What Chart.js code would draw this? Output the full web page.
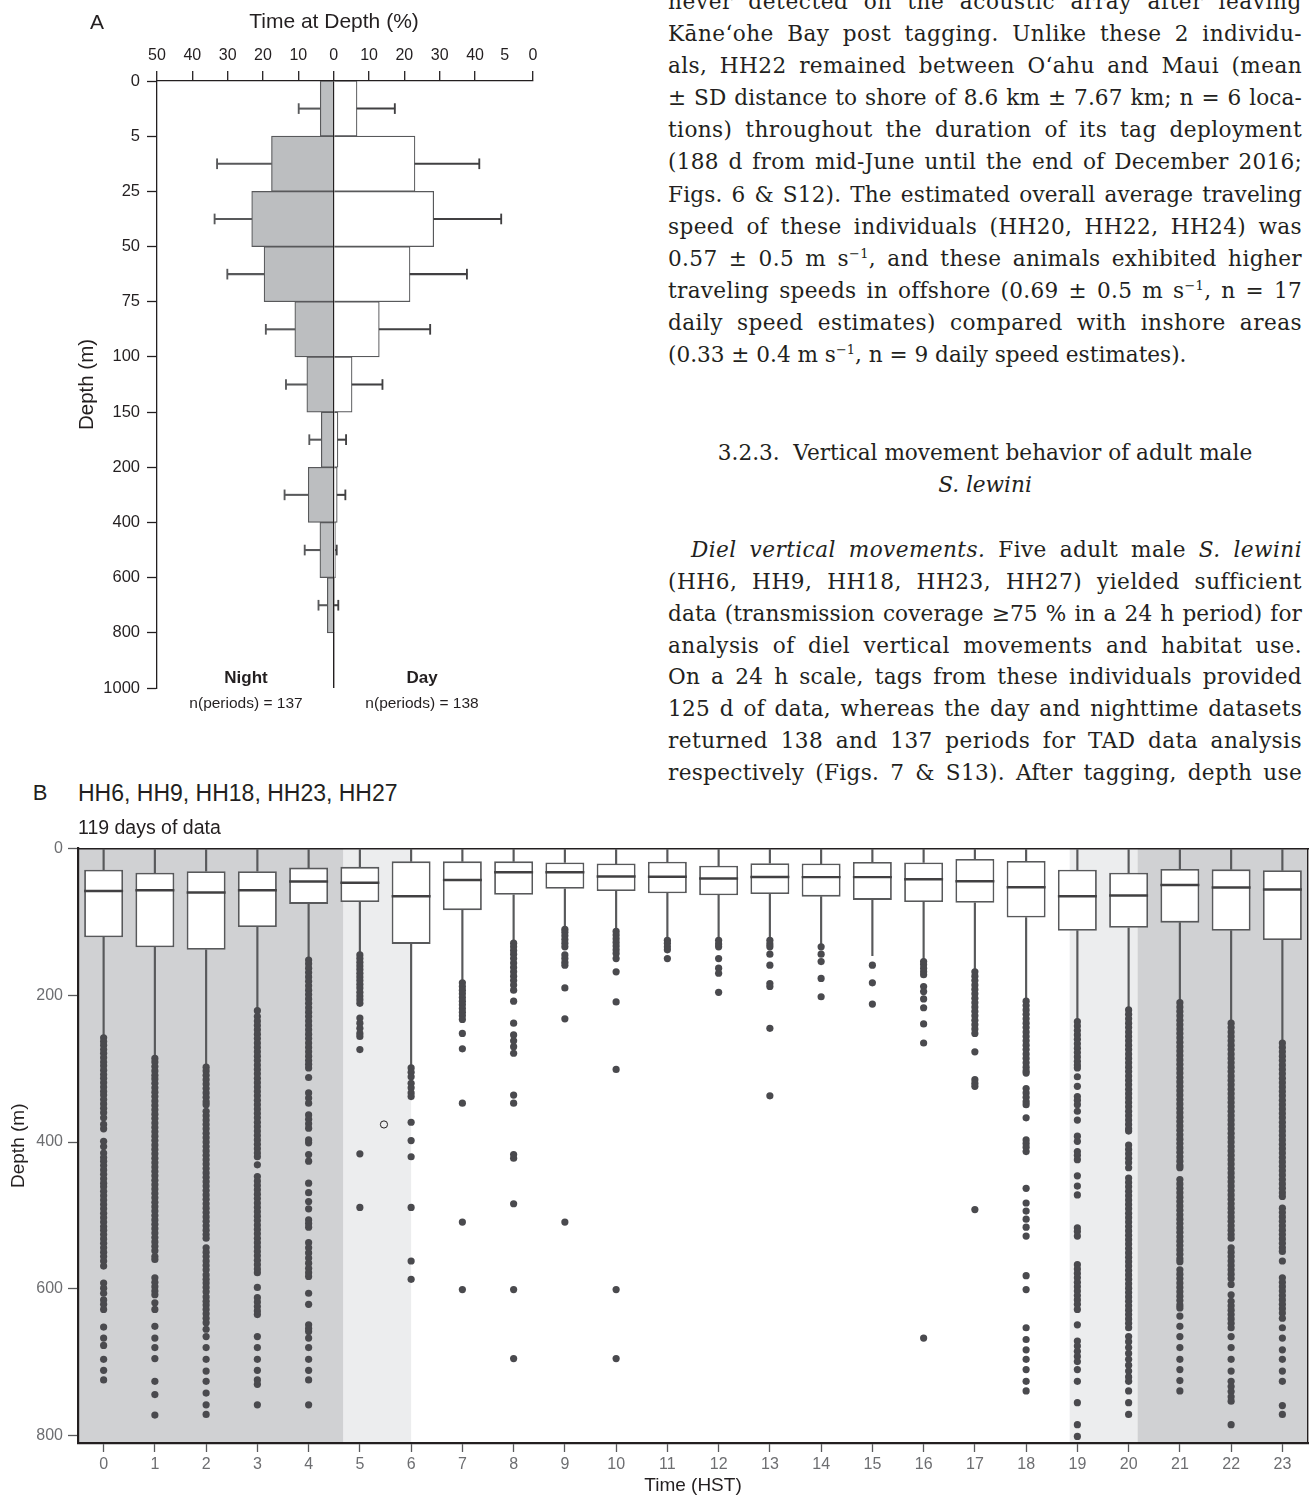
<!DOCTYPE html>
<html><head><meta charset="utf-8">
<script src="https://cdn.jsdelivr.net/npm/chart.js@4.4.1/dist/chart.umd.min.js"></script>
<style>
html,body{margin:0;padding:0;background:#fff;width:1313px;height:1498px;overflow:hidden;position:relative;}
canvas{position:absolute;left:0;}
.abs{position:absolute;white-space:nowrap;font-family:'Liberation Sans',Arial,sans-serif;color:#231f20;z-index:2;}
.c{transform:translate(-50%,-50%);}
.l{transform:translateY(-50%);}
#col{position:absolute;left:668px;top:0;width:634px;height:800px;font-family:'DejaVu Serif',serif;font-size:21.6px;color:#231f20;z-index:2;}
.ln{position:absolute;left:0;width:634px;height:32px;line-height:32px;white-space:nowrap;}
.ln .t{display:inline-block;white-space:nowrap;}
.ctr{text-align:center;}
sup{font-size:0.6em;line-height:0;vertical-align:0.6em;}
</style></head>
<body>
<canvas id="chartA" width="640" height="720" style="top:0"></canvas>
<canvas id="chartB" width="1313" height="668" style="top:830px"></canvas>

<div class="abs c" style="left:97px;top:22px;font-size:21px;">A</div>
<div class="abs c" style="left:334px;top:21px;font-size:21px;">Time at Depth (%)</div>
<div class="abs c" style="left:246px;top:678px;font-size:17px;font-weight:bold;">Night</div>
<div class="abs c" style="left:422px;top:678px;font-size:17px;font-weight:bold;">Day</div>
<div class="abs c" style="left:246px;top:703px;font-size:15.5px;">n(periods) = 137</div>
<div class="abs c" style="left:422px;top:703px;font-size:15.5px;">n(periods) = 138</div>

<div class="abs c" style="left:40px;top:793px;font-size:22px;">B</div>
<div class="abs l" style="left:78px;top:793px;font-size:23px;">HH6, HH9, HH18, HH23, HH27</div>
<div class="abs l" style="left:78px;top:827px;font-size:19.5px;">119 days of data</div>

<div id="col">
<div class="ln j" style="top:-14px"><span class="t">never detected on the acoustic array after leaving</span></div>
<div class="ln j" style="top:18px"><span class="t">Kāneʻohe Bay post tagging. Unlike these 2 individu-</span></div>
<div class="ln j" style="top:50px"><span class="t">als, HH22 remained between Oʻahu and Maui (mean</span></div>
<div class="ln j" style="top:82px"><span class="t">± SD distance to shore of 8.6 km ± 7.67 km; n = 6 loca-</span></div>
<div class="ln j" style="top:114px"><span class="t">tions) throughout the duration of its tag deployment</span></div>
<div class="ln j" style="top:146px"><span class="t">(188 d from mid-June until the end of December 2016;</span></div>
<div class="ln j" style="top:179px"><span class="t">Figs. 6 &amp; S12). The estimated overall average traveling</span></div>
<div class="ln j" style="top:211px"><span class="t">speed of these individuals (HH20, HH22, HH24) was</span></div>
<div class="ln j" style="top:243px"><span class="t">0.57 ± 0.5 m s<sup>−1</sup>, and these animals exhibited higher</span></div>
<div class="ln j" style="top:275px"><span class="t">traveling speeds in offshore (0.69 ± 0.5 m s<sup>−1</sup>, n = 17</span></div>
<div class="ln j" style="top:307px"><span class="t">daily speed estimates) compared with inshore areas</span></div>
<div class="ln" style="top:339px"><span class="t">(0.33 ± 0.4 m s<sup>−1</sup>, n = 9 daily speed estimates).</span></div>

<div class="ln ctr" style="top:437px"><span class="t">3.2.3.&nbsp; Vertical movement behavior of adult male</span></div>
<div class="ln ctr" style="top:469px"><span class="t"><i>S. lewini</i></span></div>

<div class="ln j" style="top:534px"><span class="t" style="margin-left:23px"><i>Diel vertical movements.</i> Five adult male <i>S. lewini</i></span></div>
<div class="ln j" style="top:566px"><span class="t">(HH6, HH9, HH18, HH23, HH27) yielded sufficient</span></div>
<div class="ln j" style="top:598px"><span class="t">data (transmission coverage ≥75 % in a 24 h period) for</span></div>
<div class="ln j" style="top:630px"><span class="t">analysis of diel vertical movements and habitat use.</span></div>
<div class="ln j" style="top:661px"><span class="t">On a 24 h scale, tags from these individuals provided</span></div>
<div class="ln j" style="top:693px"><span class="t">125 d of data, whereas the day and nighttime datasets</span></div>
<div class="ln j" style="top:725px"><span class="t">returned 138 and 137 periods for TAD data analysis</span></div>
<div class="ln j" style="top:757px"><span class="t">respectively (Figs. 7 &amp; S13). After tagging, depth use</span></div>
</div>

<script>
// ---------------- Panel A data ----------------
const depthEdges = ['0','5','25','50','75','100','150','200','400','600','800','1000'];
const nightPct = [3.8, 17.6, 23.2, 19.7, 11.0, 7.6, 3.5, 7.2, 3.9, 1.8, 0];
const nightSd  = [6.1, 15.4, 10.5, 10.4, 8.2, 5.9, 3.4, 6.7, 4.3, 2.5, 0];
const dayPct   = [6.6, 23.0, 28.3, 21.6, 12.9, 5.2, 1.2, 1.0, 0.5, 0.2, 0];
const daySd    = [10.7, 18.2, 19.1, 16.1, 14.4, 8.6, 2.3, 2.3, 0.35, 1.1, 0];
const pctTickValues = [-50, -40, -30, -20, -10, 0, 10, 20, 30, 40, 48.4, 56.4];
const pctTickLabels = ['50','40','30','20','10','0','10','20','30','40','5','0'];

// ---------------- Panel B data ----------------
const hours = [0,1,2,3,4,5,6,7,8,9,10,11,12,13,14,15,16,17,18,19,20,21,22,23];
const q1     = [29,33,31,31,26,25,17.5,17.5,17.5,19,20.5,18,23.4,20,20.5,18.4,19,14.3,17,28.8,33,28,28.4,29.7];
const median = [58,57,60,57,45,46.5,65,43,32.5,32.5,38,38.4,41,38.8,39,39,42,44.7,52.9,65,64,49.7,53.3,56];
const q3     = [121,134.5,138,107,75.5,73,130,84,63,55,58,61,63.8,62,65.6,70,73,74,94,112,108,101,112,124.6];
const whiskerMin = [0,0,0,0,0,0,0,0,0,0,0,0,0,0,0,0,0,0,0,0,0,0,0,0];
const whiskerMax = [256,285,296,220,150,144,297,182,128,109,112,124,124,124,133,146,153,166,207,235,219,209,237,264];
const depthTicksB = [0,200,400,600,800];
const openCircleHour = [5.47];
const openCircleDepth = [376];
const twilightBands = [[4.68, 6.0], [18.85, 20.17]];
const nightBands = [[-0.5, 4.68], [20.17, 23.5]];

const out0 = [258,263,268,274,279,285,291,296,302,308,313,319,325,331,336,342,348,354,360,367,376,382,399,406,415,421,426,432,438,444,450,456,461,467,473,479,485,491,497,503,509,515,520,526,532,538,544,550,556,562,569,592,599,606,615,621,628,652,667,677,696,711,724];
const out1 = [286,291,297,303,309,314,320,326,332,338,344,350,356,362,368,374,380,386,392,398,404,410,416,422,428,434,440,446,452,458,464,470,476,482,488,494,500,506,512,518,524,530,536,542,548,556,560,585,591,597,603,608,619,628,651,667,680,695,726,744,772];
const out2 = [298,303,309,315,321,327,333,339,345,349,358,364,370,376,382,388,394,400,406,412,418,424,430,436,442,448,454,460,466,472,478,484,490,496,502,508,514,520,526,531,544,550,556,562,568,574,581,587,592,598,604,611,617,622,628,634,640,646,655,665,680,696,712,726,742,758,771];
const out3 = [221,229,235,241,247,253,259,265,271,277,283,289,295,301,307,313,319,325,331,337,343,349,355,361,367,373,379,385,391,397,403,409,415,420,431,447,453,459,465,471,477,483,489,495,501,507,513,519,525,531,537,543,549,555,561,567,573,578,598,612,618,624,630,635,665,680,696,711,724,730,758];
const out4 = [152,157,163,169,175,181,187,193,199,205,211,217,223,229,235,241,247,253,259,265,271,277,283,289,294,299,312,333,340,347,363,369,375,381,397,401,417,426,456,469,481,491,506,511,516,537,544,551,558,565,572,578,583,606,621,649,654,658,667,680,696,711,724,758];
const out5 = [145,150,155,160,165,170,175,180,185,190,196,201,206,211,231,238,245,252,256,274,416,489];
const out6 = [299,305,311,320,326,333,338,373,398,420,489,562,587];
const out7 = [183,188,193,198,203,208,213,218,223,228,233,252,273,347,509,601];
const out8 = [129,134,139,144,150,156,162,168,174,180,186,193,208,238,254,262,270,279,336,347,417,422,484,601,695];
const out9 = [110,114,119,124,129,134,145,150,155,159,190,232,509];
const out10 = [113,118,123,128,133,138,143,150,168,209,301,601,695];
const out11 = [125,129,134,138,150];
const out12 = [125,130,134,150,163,170,196];
const out13 = [125,130,134,144,159,184,188,245,337];
const out14 = [134,144,154,177,202];
const out15 = [159,183,212];
const out16 = [154,158,163,168,172,188,195,205,217,239,265,667];
const out17 = [168,174,180,186,192,198,204,210,216,222,228,234,240,246,252,277,315,320,324,492];
const out18 = [208,214,220,226,232,238,244,250,256,262,268,274,280,286,292,298,303,306,327,333,339,345,349,367,397,402,407,413,463,483,494,505,516,528,582,601,653,669,683,696,710,726,739];
const out19 = [236,242,248,254,260,266,272,278,284,290,295,299,311,324,338,343,349,358,370,392,399,413,418,424,446,460,472,517,522,528,567,573,579,585,591,597,603,609,615,621,628,649,671,678,685,692,699,710,726,755,785,801];
const out20 = [220,226,232,238,244,250,256,262,268,274,280,286,292,298,304,310,316,322,328,334,340,346,352,358,364,370,376,382,385,404,410,416,422,428,435,449,455,461,467,473,479,485,491,497,503,509,515,521,527,533,539,545,551,557,563,569,575,581,587,593,599,605,611,617,623,629,635,641,647,653,665,672,680,688,696,704,712,720,726,739,755,771];
const out21 = [210,216,222,228,234,240,246,252,258,264,270,276,282,288,294,300,306,312,318,324,330,336,342,348,354,360,366,372,378,384,390,396,402,408,414,420,426,432,435,451,457,463,469,475,481,487,493,499,505,511,517,523,529,535,541,547,553,559,563,574,580,586,592,598,604,610,616,622,626,637,651,665,680,696,710,725,739];
const out22 = [238,244,250,256,262,268,274,280,286,292,298,304,310,316,322,328,334,340,346,352,358,364,370,376,382,388,394,400,406,412,418,424,430,436,442,448,454,460,466,472,478,484,490,496,502,508,514,520,526,531,544,550,556,562,568,574,580,586,594,608,617,623,629,635,641,647,653,665,680,696,712,726,733,740,747,753,785];
const out23 = [265,271,277,283,289,295,301,307,313,319,325,331,337,343,349,355,361,367,373,379,385,391,397,403,409,415,421,427,433,439,445,451,457,463,469,474,490,496,502,508,514,520,526,532,538,544,549,562,585,591,597,603,609,615,621,627,633,640,653,667,683,696,712,726,759,771];
const outlierLists = [out0,out1,out2,out3,out4,out5,out6,out7,out8,out9,out10,out11,out12,out13,out14,out15,out16,out17,out18,out19,out20,out21,out22,out23];

// ---------------- styling ----------------
Chart.defaults.font.family = "'Liberation Sans', Arial, sans-serif";
Chart.defaults.color = '#231f20';
const INK = '#231f20', EDGE = '#58595b', NIGHT_FILL = '#bcbec0';
const CLEAR = 'rgba(0,0,0,0)';

// ---------------- Panel A ----------------
const binCenter = i => i + 0.5;
const nightBars = nightPct.map((v,i)=>({x:-v, y:binCenter(i)}));
const dayBars = dayPct.map((v,i)=>({x:v, y:binCenter(i)}));
const nightErr = nightPct.map((v,i)=> nightSd[i] ? {x:[-v, -(v+nightSd[i])], y:binCenter(i)} : null).filter(Boolean);
const dayErr = dayPct.map((v,i)=> daySd[i] ? {x:[v, v+daySd[i]], y:binCenter(i)} : null).filter(Boolean);
const CAP = 0.17;
const nightCap = nightPct.map((v,i)=> nightSd[i] ? {x:[-(v+nightSd[i])-CAP, -(v+nightSd[i])+CAP], y:binCenter(i)} : null).filter(Boolean);
const dayCap = dayPct.map((v,i)=> daySd[i] ? {x:[v+daySd[i]-CAP, v+daySd[i]+CAP], y:binCenter(i)} : null).filter(Boolean);

new Chart(document.getElementById('chartA'), {
  type: 'bar',
  data: { datasets: [
    {label:'Night SD', data:nightErr, backgroundColor:EDGE, barThickness:1.4, grouped:false, borderWidth:0},
    {label:'Night SD cap', data:nightCap, backgroundColor:EDGE, barThickness:10, grouped:false, borderWidth:0},
    {label:'Day SD', data:dayErr, backgroundColor:'#414042', barThickness:1.4, grouped:false, borderWidth:0},
    {label:'Day SD cap', data:dayCap, backgroundColor:'#414042', barThickness:10, grouped:false, borderWidth:0},
    {label:'Night', data:nightBars, backgroundColor:NIGHT_FILL, borderColor:EDGE, borderWidth:1.2, barPercentage:1, categoryPercentage:1, grouped:false},
    {label:'Day', data:dayBars, backgroundColor:'#ffffff', borderColor:EDGE, borderWidth:1.2, barPercentage:1, categoryPercentage:1, grouped:false}
  ]},
  options: {
    indexAxis:'y', responsive:false, animation:false, devicePixelRatio:1, events:[],
    layout:{padding:{left:0, top:0, right:107, bottom:32}},
    plugins:{legend:{display:false}, tooltip:{enabled:false}},
    scales:{
      x:{type:'linear', position:'top', min:-50, max:56.4, offset:false,
        afterBuildTicks: ax => { ax.ticks = pctTickValues.map(v=>({value:v})); },
        afterFit: ax => { ax.height = 81; },
        ticks:{autoSkip:false, maxRotation:0, padding:6, color:INK, font:{size:16}, callback:(v,i)=>pctTickLabels[i]},
        grid:{offset:false, drawOnChartArea:true, lineWidth:1.4,
          color: c => (c.tick && c.tick.value === 0) ? INK : CLEAR,
          tickLength:10, tickWidth:1.3,
          tickColor: c => (c.tick && c.tick.value === 48.4) ? CLEAR : INK},
        border:{display:true, color:INK, width:1.3}
      },
      y:{type:'linear', reverse:true, min:0, max:depthEdges.length-1, offset:false,
        afterBuildTicks: ax => { ax.ticks = depthEdges.map((_,i)=>({value:i})); },
        afterFit: ax => { ax.width = 157; },
        ticks:{autoSkip:false, padding:7, color:INK, font:{size:16.5}, callback:(v,i)=>depthEdges[i]},
        grid:{offset:false, drawOnChartArea:false, tickLength:10, tickColor:INK, tickWidth:1.3},
        border:{display:true, color:INK, width:1.3},
        title:{display:true, text:'Depth (m)', color:INK, font:{size:20.5}, padding:{top:75, bottom:0}}
      }
    }
  }
});

// ---------------- Panel B ----------------
const bandPlugin = {
  id:'bands',
  beforeDraw(chart){
    const {ctx, chartArea:a, scales:{x}} = chart;
    ctx.save();
    const fill = (bands, color) => bands.forEach(([f,t]) => {
      const x0 = x.getPixelForValue(f), x1 = x.getPixelForValue(t);
      ctx.fillStyle = color;
      ctx.fillRect(x0, a.top, x1-x0, a.bottom-a.top);
    });
    fill(nightBands, '#d0d1d3');
    fill(twilightBands, '#ecedee');
    ctx.restore();
  }
};

const MED_HALF = 1.7;
const boxes = hours.map((h,i)=>({x:h, y:[q1[i], q3[i]]}));
const medians = hours.map((h,i)=>({x:h, y:[median[i]-MED_HALF, median[i]+MED_HALF]}));
const upperWhiskers = hours.map((h,i)=>({x:h, y:[whiskerMin[i], q1[i]]}));
const lowerWhiskers = hours.map((h,i)=>({x:h, y:[q3[i], whiskerMax[i]]}));
const outlierPoints = [];
outlierLists.forEach((list, i) => list.forEach(d => outlierPoints.push({x:hours[i], y:d})));
const openPoints = openCircleHour.map((h,i)=>({x:h, y:openCircleDepth[i]}));

new Chart(document.getElementById('chartB'), {
  type:'bar',
  data:{ datasets:[
    {type:'scatter', label:'Outliers', data:outlierPoints, pointRadius:3.6, backgroundColor:'#4a4a4e', borderWidth:0, pointHoverRadius:3.6},
    {type:'scatter', label:'Open', data:openPoints, pointRadius:3.6, backgroundColor:CLEAR, borderColor:INK, borderWidth:1},
    {label:'Median', data:medians, backgroundColor:'#414042', borderWidth:0, barPercentage:0.76, categoryPercentage:1, grouped:false},
    {label:'Box', data:boxes, backgroundColor:'#ffffff', borderColor:EDGE, borderWidth:1.8, borderSkipped:false, barPercentage:0.76, categoryPercentage:1, grouped:false},
    {label:'Upper whisker', data:upperWhiskers, backgroundColor:EDGE, barThickness:1.5, grouped:false, borderWidth:0},
    {label:'Lower whisker', data:lowerWhiskers, backgroundColor:EDGE, barThickness:1.5, grouped:false, borderWidth:0}
  ]},
  options:{
    responsive:false, animation:false, devicePixelRatio:1, events:[],
    layout:{padding:{left:0, top:18.5, right:2, bottom:0}},
    plugins:{legend:{display:false}, tooltip:{enabled:false}},
    scales:{
      x:{type:'linear', position:'bottom', min:-0.5, max:23.5, offset:false,
        afterBuildTicks: ax => { ax.ticks = hours.map(h=>({value:h})); },
        afterFit: ax => { ax.height = 55; },
        ticks:{autoSkip:false, maxRotation:0, padding:3, color:'#6d6e71', font:{size:16}, callback:(v,i)=>String(hours[i])},
        grid:{offset:false, drawOnChartArea:false, tickLength:9, tickColor:EDGE, tickWidth:1.3},
        border:{display:true, color:INK, width:2.2},
        title:{display:true, text:'Time (HST)', color:INK, font:{size:19}, padding:{top:0, bottom:1}}
      },
      y:{type:'linear', reverse:true, min:0, max:810,
        afterBuildTicks: ax => { ax.ticks = depthTicksB.map(v=>({value:v})); },
        afterFit: ax => { ax.width = 78; },
        ticks:{autoSkip:false, padding:5, color:'#6d6e71', font:{size:16}},
        grid:{drawOnChartArea:false, tickLength:10, tickColor:EDGE, tickWidth:1.3},
        border:{display:true, color:INK, width:2.2},
        title:{display:true, text:'Depth (m)', color:INK, font:{size:19}, padding:{top:7, bottom:0}}
      },
      xTop:{type:'linear', position:'top', min:-0.5, max:23.5, offset:false,
        ticks:{display:false}, grid:{display:false, offset:false},
        afterFit: ax => { ax.height = 0; },
        border:{display:true, color:INK, width:1.4}
      },
      yRight:{type:'linear', position:'right', min:0, max:810,
        ticks:{display:false}, grid:{display:false},
        afterFit: ax => { ax.width = 0; },
        border:{display:true, color:INK, width:1.4}
      }
    }
  },
  plugins:[bandPlugin]
});

// ---------------- justify text column ----------------
function justifyLines(){
  document.querySelectorAll('.ln.j').forEach(div => {
    const span = div.querySelector('.t');
    span.style.wordSpacing = '0px';
    span.style.letterSpacing = '0px';
    const indent = parseFloat(span.style.marginLeft) || 0;
    const avail = div.clientWidth - indent;
    const text = span.textContent;
    const spaces = (text.match(/ /g) || []).length;
    const chars = text.length;
    let natural = span.getBoundingClientRect().width;
    let extra = avail - natural;
    if (extra > 0 && chars > 0) {
      const ls = Math.min(extra * 0.35 / chars, 0.7);
      span.style.letterSpacing = ls + 'px';
      natural = span.getBoundingClientRect().width;
      extra = avail - natural;
    }
    if (spaces > 0) span.style.wordSpacing = (extra / spaces) + 'px';
  });
}
justifyLines();
if (document.fonts && document.fonts.ready) document.fonts.ready.then(justifyLines);
</script>
</body></html>
